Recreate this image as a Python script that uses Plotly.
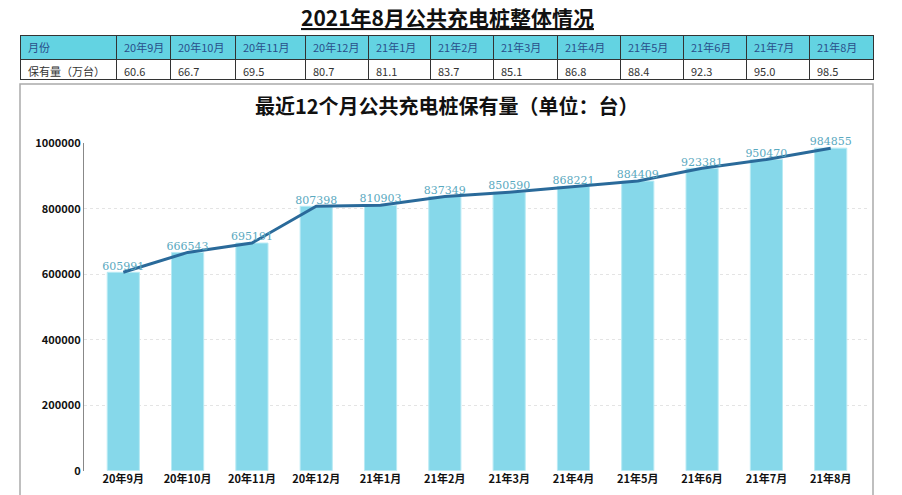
import plotly.graph_objects as go

months = ['20年9月', '20年10月', '20年11月', '20年12月', '21年1月', '21年2月',
          '21年3月', '21年4月', '21年5月', '21年6月', '21年7月', '21年8月']
stock_wan = ['60.6', '66.7', '69.5', '80.7', '81.1', '83.7',
             '85.1', '86.8', '88.4', '92.3', '95.0', '98.5']
stock = [605991, 666543, 695191, 807398, 810903, 837349,
         850590, 868221, 884409, 923381, 950470, 984855]

W, H = 902, 495
font = 'Noto Sans CJK SC'


def py(y_px):
    # pixel from top (as seen) -> paper y, compensating for the page offset
    return 1 - ((y_px - 17.4) / 0.963) / H


def px(x_px):
    return (x_px - 8) / W


fig = go.Figure()

col_w = [96, 54, 65, 70, 63, 62, 63, 64, 63, 63, 63, 63, 64]
fig.add_trace(go.Table(
    domain=dict(x=[px(20), px(873)], y=[py(82), min(1, py(36))]),
    columnwidth=col_w,
    header=dict(values=['月份'] + months, fill_color='#63d3e2', line_color='#333',
                height=24, align='left', font=dict(family=font, size=11, color='#2a4f8a')),
    cells=dict(values=[['保有量（万台）']] + [[v] for v in stock_wan], fill_color='white',
               line_color='#333', height=20, align='left',
               font=dict(family=font, size=11, color='#333')),
))

fig.add_trace(go.Bar(x=months, y=stock, width=0.5, marker=dict(color='#86d8ea', line=dict(color='#b8eaf4', width=1)),
                     showlegend=False, hoverinfo='skip'))
fig.add_trace(go.Scatter(x=months, y=stock, mode='lines+text', text=[str(v) for v in stock],
                         textposition='top center', textfont=dict(family='DejaVu Serif', size=11, color='#5aa9c0'),
                         line=dict(color='#2a6a9a', width=3), showlegend=False, cliponaxis=False))

fig.add_shape(type='rect', xref='paper', yref='paper', x0=px(20), x1=px(873), y0=py(500), y1=py(84),
              line=dict(color='#aaa', width=1.5), layer='below')

fig.add_annotation(text='<b><u>2021年8月公共充电桩整体情况</u></b>', xref='paper', yref='paper',
                   x=px(447), y=py(17), yanchor='middle', showarrow=False,
                   font=dict(family=font, size=21, color='#111'))
fig.add_annotation(text='<b>最近12个月公共充电桩保有量（单位：台）</b>', xref='paper', yref='paper',
                   x=px(447), y=py(105), yanchor='middle', showarrow=False,
                   font=dict(family=font, size=20, color='#111'))

fig.update_layout(
    width=W, height=H, margin=dict(l=0, r=0, t=0, b=0),
    paper_bgcolor='white', plot_bgcolor='white', bargap=0.5,
    xaxis=dict(domain=[px(84), px(870)], showline=False, ticks='',
               tickfont=dict(family=font, size=11, color='#111', weight='bold')),
    yaxis=dict(domain=[py(469), py(143)], range=[0, 1000000], dtick=200000, showgrid=True,
               gridcolor='#e4e4e4', griddash='dot', showline=True, linecolor='#888', zeroline=False,
               tickformat='d', tickfont=dict(family=font, size=11, color='#111', weight='bold')),
)

fig.write_html('out.html')
